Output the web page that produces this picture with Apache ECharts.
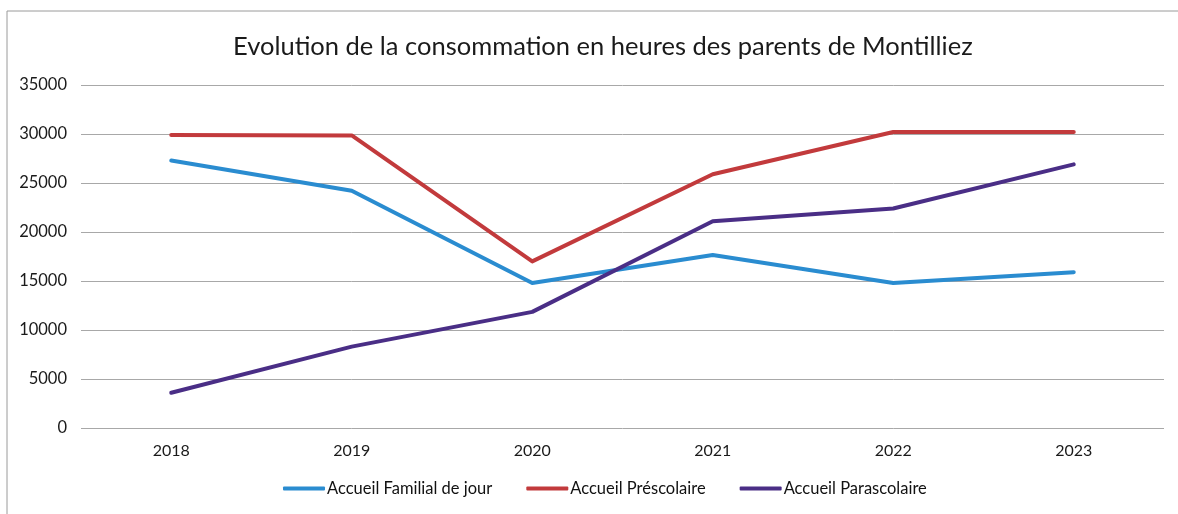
<!DOCTYPE html>
<html>
<head>
<meta charset="utf-8">
<script src="https://cdn.jsdelivr.net/npm/echarts@6/dist/echarts.min.js"></script>
<style>
html,body{margin:0;padding:0;background:#fff;}
#chart{width:1178px;height:514px;}
</style>
</head>
<body>
<div id="chart"></div>
<script>
const years = ['2018','2019','2020','2021','2022','2023'];
const familial = [27300, 24200, 14800, 17650, 14800, 15900];
const prescolaire = [29900, 29850, 17000, 25900, 30200, 30200];
const parascolaire = [3600, 8300, 11850, 21100, 22400, 26900];
const seriesNames = ['Accueil Familial de jour', 'Accueil Préscolaire', 'Accueil Parascolaire'];
const titleText = 'Evolution de la consommation en heures des parents de Montilliez';

const FONT = 'Lato';
const chart = echarts.init(document.getElementById('chart'));
const colors = ['#2a8cd0', '#c23a3c', '#4a2e86'];
function mk(name, data, i){
  return {name, type:'line', data, symbol:'none', smooth:false,
    lineStyle:{width:4, color:colors[i], cap:'round', join:'round'}, itemStyle:{color:colors[i]}};
}
chart.setOption({
  animation:false,
  backgroundColor:'#fff',
  textStyle:{fontFamily:FONT},
  graphic:[{type:'rect', shape:{x:7, y:11, width:1200, height:600},
    style:{fill:'none', stroke:'#9a9a9a', lineWidth:1}}],
  title:{text:titleText, left:228, top:29,
    textStyle:{fontFamily:FONT, fontSize:25.5, fontWeight:'normal', color:'#1a1a1a'}},
  grid:{left:81, right:14, top:85, bottom:86},
  legend:{bottom:12, left:278, itemWidth:42, itemHeight:4, itemGap:34,
    icon:'roundRect',
    textStyle:{fontFamily:FONT, fontSize:16.5, color:'#111', padding:[0,0,0,-3]},
    data:seriesNames},
  xAxis:{type:'category', data:years, boundaryGap:true,
    axisLine:{show:false}, axisTick:{show:false},
    axisLabel:{fontFamily:FONT, fontSize:16, color:'#1a1a1a', margin:15}},
  yAxis:{type:'value', min:0, max:35000, interval:5000,
    axisLine:{show:false}, axisTick:{show:false},
    axisLabel:{fontFamily:FONT, fontSize:16.5, color:'#1a1a1a', margin:14, formatter:v=>String(v)},
    splitLine:{lineStyle:{color:'#a8a8a8', width:1}}},
  series:[mk(seriesNames[0], familial, 0), mk(seriesNames[1], prescolaire, 1), mk(seriesNames[2], parascolaire, 2)]
});
</script>
</body>
</html>
